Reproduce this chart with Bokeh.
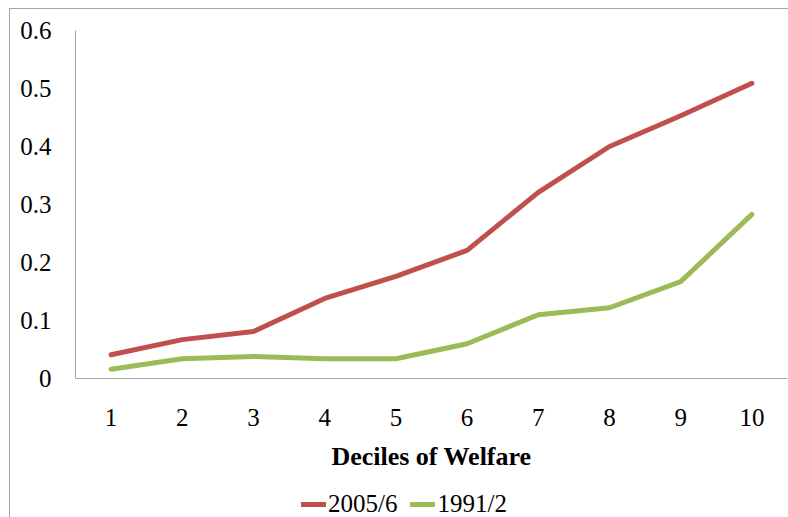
from bokeh.plotting import figure
from bokeh.models import Range1d, FixedTicker, Legend, LegendItem
from bokeh.embed import file_html
from bokeh.resources import INLINE

deciles = [1, 2, 3, 4, 5, 6, 7, 8, 9, 10]
series_2005 = [0.041, 0.067, 0.081, 0.138, 0.176, 0.221, 0.321, 0.400, 0.453, 0.509]
series_1991 = [0.016, 0.034, 0.038, 0.034, 0.034, 0.060, 0.110, 0.122, 0.167, 0.283]
y_ticks = [0, 0.1, 0.2, 0.3, 0.4, 0.5, 0.6]
y_tick_labels = ["0", "0.1", "0.2", "0.3", "0.4", "0.5", "0.6"]

FONT = "Liberation Serif"

# frame runs from the top of the plot area down past the legend; y=0 sits at the x axis
p = figure(width=None, height=None, frame_width=712, frame_height=488,
           output_backend="svg", toolbar_location=None,
           x_range=Range1d(0.5, 10.5), y_range=Range1d(-0.24138, 0.6),
           min_border_left=65, min_border_right=1, min_border_top=21, min_border_bottom=0)
p.styles = {"margin-left": "9px", "margin-top": "8px",
            "border-left": "1px solid #a6a6a6", "border-top": "1px solid #a6a6a6"}
p.outline_line_color = None
p.grid.visible = False
p.background_fill_color = "white"
p.border_fill_color = "white"

r1 = p.line(deciles, series_2005, line_color="#C0504D", line_width=5, line_join="round", line_cap="round")
r2 = p.line(deciles, series_1991, line_color="#9BBB59", line_width=5, line_join="round", line_cap="round")

xa = p.xaxis[0]
xa.fixed_location = 0
xa.ticker = FixedTicker(ticks=deciles)
xa.axis_line_color = "#a6a6a6"
xa.major_tick_line_color = None
xa.minor_tick_line_color = None
xa.major_label_text_font = FONT
xa.major_label_text_font_size = "25px"
xa.major_label_text_color = "black"
xa.major_label_standoff = 25
xa.axis_label = "Deciles of Welfare"
xa.axis_label_text_font = FONT
xa.axis_label_text_font_size = "26px"
xa.axis_label_text_font_style = "bold"
xa.axis_label_text_color = "black"
xa.axis_label_standoff = 12

ya = p.yaxis[0]
ya.ticker = FixedTicker(ticks=y_ticks)
ya.bounds = (0, 0.6)
ya.major_label_overrides = {t: l for t, l in zip(y_ticks, y_tick_labels)}
ya.axis_line_color = "#a6a6a6"
ya.major_tick_line_color = None
ya.minor_tick_line_color = None
ya.major_label_text_font = FONT
ya.major_label_text_font_size = "25px"
ya.major_label_text_color = "black"
ya.major_label_standoff = 18

legend = Legend(items=[LegendItem(label="2005/6", renderers=[r1]),
                       LegendItem(label="1991/2", renderers=[r2])],
                orientation="horizontal", location=(226, 0),
                label_text_font=FONT, label_text_font_size="25px",
                label_text_color="black", glyph_width=25, label_standoff=2,
                spacing=13, padding=0, margin=0, border_line_color=None,
                background_fill_alpha=0)
p.add_layout(legend, "center")

open("out.html", "w").write(file_html(p, INLINE))
